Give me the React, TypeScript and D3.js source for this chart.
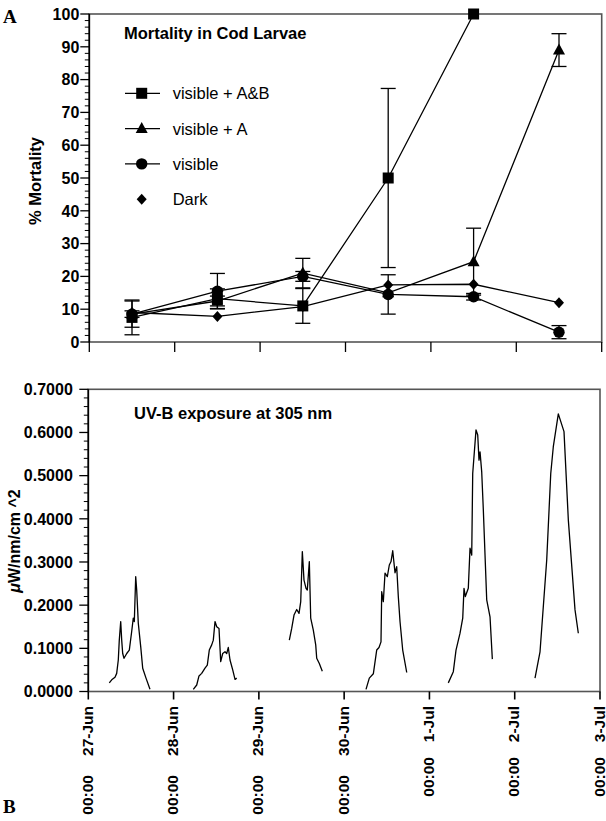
import React from 'react';
import * as d3 from 'd3';

// ---------- Panel A data ----------
const sampleDays = [0.5, 1.5, 2.5, 3.5, 4.5, 5.5];
const abMean = [7.5, 13.2, 11, 50, 100];
const abErr = [5.3, 3, 5.3, 27.3, 0];
const aMean = [8.5, 12.5, 21, 15, 24.5, 89];
const aErr = [4, 1.5, 4.5, 0, 10.2, 5];
const visMean = [8.5, 15.5, 20, 14.5, 13.8, 3];
const visErr = [1, 5.4, 1.5, 6, 1, 2];
const darkMean = [9, 7.8, 10.8, 17.4, 17.6, 12];

const legendNames = ['visible + A&B', 'visible + A', 'visible', 'Dark'];
const yTicksA = [0, 10, 20, 30, 40, 50, 60, 70, 80, 90, 100];

// ---------- Panel B data (hours since 27-Jun 00:00, µW/nm/cm^2) ----------
const uvHours = [
  [5.91, 6.59, 7.51, 7.99, 8.44, 8.72, 9.12, 9.40, 9.68, 10.05, 10.81, 11.54, 12.21, 12.66, 12.95, 13.34, 13.62, 14.07, 14.75, 15.31, 16.24, 17.36],
  [29.55, 30.51, 31.15, 31.91, 32.84, 33.49, 34.05, 34.73, 35.18, 35.66, 36.14, 36.78, 37.26, 37.82, 38.47, 38.95, 39.40, 39.88, 40.64, 41.29, 41.76],
  [56.57, 57.24, 57.89, 58.65, 59.30, 59.78, 60.23, 60.70, 61.27, 61.63, 62.20, 62.59, 63.32, 64.00, 64.28, 65.01, 65.85],
  [78.15, 79.08, 80.21, 81.16, 81.81, 82.37, 82.57, 83.02, 83.50, 84.15, 84.71, 85.19, 85.67, 86.31, 86.79, 87.24, 87.72, 88.48, 89.61],
  [101.31, 102.72, 103.48, 104.61, 105.37, 105.73, 106.10, 106.94, 107.42, 107.90, 108.18, 109.11, 109.59, 109.95, 110.24, 110.71, 111.17, 112.12, 113.05, 113.70],
  [125.71, 127.12, 129.01, 130.14, 130.86, 132.27, 133.87, 135.09, 136.97, 137.90],
];
const uvValues = [
  [0.020, 0.027, 0.033, 0.042, 0.073, 0.119, 0.162, 0.119, 0.088, 0.077, 0.088, 0.096, 0.139, 0.170, 0.162, 0.266, 0.235, 0.158, 0.104, 0.054, 0.031, 0.005],
  [0.005, 0.015, 0.036, 0.042, 0.054, 0.061, 0.096, 0.108, 0.119, 0.162, 0.150, 0.146, 0.069, 0.088, 0.092, 0.088, 0.102, 0.073, 0.050, 0.028, 0.031],
  [0.119, 0.146, 0.177, 0.190, 0.181, 0.208, 0.324, 0.258, 0.239, 0.235, 0.301, 0.170, 0.142, 0.108, 0.077, 0.065, 0.047],
  [0.005, 0.031, 0.041, 0.096, 0.102, 0.115, 0.231, 0.208, 0.274, 0.266, 0.293, 0.301, 0.326, 0.275, 0.289, 0.220, 0.162, 0.096, 0.044],
  [0.020, 0.046, 0.096, 0.135, 0.170, 0.239, 0.220, 0.239, 0.332, 0.316, 0.505, 0.606, 0.594, 0.536, 0.555, 0.509, 0.420, 0.212, 0.173, 0.075],
  [0.031, 0.092, 0.305, 0.505, 0.567, 0.643, 0.602, 0.397, 0.189, 0.135],
];
const yTicksB = [0, 0.1, 0.2, 0.3, 0.4, 0.5, 0.6, 0.7];
const xTickHours = [0, 24, 48, 72, 96, 120, 144];
const xTickDates = ['27-Jun', '28-Jun', '29-Jun', '30-Jun', '1-Jul', '2-Jul', '3-Jul'];
const xTickTime = '00:00';

const FONT = '"Liberation Sans", Arial, Helvetica, sans-serif';

function Marker({ kind, x, y }: { kind: string; x: number; y: number }) {
  if (kind === 'square') return <rect x={x - 5.5} y={y - 5.5} width={11} height={11} fill="#000" />;
  if (kind === 'triangle') return <path d={`M${x},${y - 6.5} L${x + 6},${y + 4.5} L${x - 6},${y + 4.5} Z`} fill="#000" />;
  if (kind === 'circle') return <circle cx={x} cy={y} r={5.7} fill="#000" />;
  return <path d={`M${x},${y - 5.5} L${x + 5},${y} L${x},${y + 5.5} L${x - 5},${y} Z`} fill="#000" />;
}

export default function App() {
  // Panel A scales
  const ax0 = 89.3, ax1 = 601.7, ay0 = 342, ay1 = 14;
  const xA = d3.scaleLinear().domain([0, 6]).range([ax0, ax1]);
  const yA = d3.scaleLinear().domain([0, 100]).range([ay0, ay1]);
  const lineA = d3.line<[number, number]>().x(d => xA(d[0])).y(d => yA(d[1]));

  const seriesA = [
    { kind: 'square', mean: abMean, err: abErr },
    { kind: 'triangle', mean: aMean, err: aErr },
    { kind: 'circle', mean: visMean, err: visErr },
    { kind: 'diamond', mean: darkMean, err: null as number[] | null },
  ];

  // Panel B scales
  const bx0 = 88.3, bx1 = 600, by0 = 691.5, by1 = 389.3;
  const xB = d3.scaleLinear().domain([0, 144]).range([bx0, bx1]);
  const yB = d3.scaleLinear().domain([0, 0.7]).range([by0, by1]);
  const lineB = d3.line<[number, number]>().x(d => xB(d[0])).y(d => yB(d[1]));
  const fmtB = d3.format('.4f');

  const minorA = d3.range(0, 101, 2).filter(v => v % 10 !== 0);
  const minorB = d3.range(0, 71, 2).filter(v => v % 10 !== 0).map(v => v / 100);

  return (
    <svg width={606} height={821} style={{ position: 'absolute', left: 0, top: 0, background: '#fff' }} fontFamily={FONT}>
      <rect x={0} y={0} width={606} height={821} fill="#fff" />
      {/* Panel labels */}
      <text x={3} y={23} fontFamily='"Liberation Serif", "Times New Roman", serif' fontWeight="bold" fontSize={19}>A</text>
      <text x={3} y={813} fontFamily='"Liberation Serif", "Times New Roman", serif' fontWeight="bold" fontSize={19}>B</text>

      {/* ===== Panel A ===== */}
      <rect x={ax0} y={ay1} width={ax1 - ax0} height={ay0 - ay1} fill="none" stroke="#555" strokeWidth={1.6} />
      <line x1={ax0} y1={ay1} x2={ax0} y2={ay0} stroke="#000" strokeWidth={1.6} />
      {yTicksA.map(v => (
        <g key={'ya' + v}>
          <line x1={ax0 - 9} x2={ax0} y1={yA(v)} y2={yA(v)} stroke="#000" strokeWidth={1.3} />
          <text x={ax0 - 10} y={yA(v)} dy="0.36em" textAnchor="end" fontSize={16} fontWeight="bold">{v}</text>
        </g>
      ))}
      {minorA.map(v => (
        <line key={'ma' + v} x1={ax0 - 4.5} x2={ax0} y1={yA(v)} y2={yA(v)} stroke="#000" strokeWidth={1} />
      ))}
      {d3.range(0, 7).map(d => (
        <line key={'xa' + d} x1={xA(d)} x2={xA(d)} y1={ay0} y2={ay0 + 10} stroke="#000" strokeWidth={1.3} />
      ))}
      <text transform={`translate(41,181) rotate(-90)`} textAnchor="middle" fontSize={16.5} fontWeight="bold">% Mortality</text>
      <text x={124} y={38.5} fontSize={16.5} fontWeight="bold">Mortality in Cod Larvae</text>

      {/* error bars */}
      {seriesA.map((s, si) => s.err ? s.mean.map((m, i) => {
        const e = s.err![i];
        if (!e) return null;
        const x = xA(sampleDays[i]);
        const lo = Math.max(0, m - e);
        return (
          <g key={`e${si}-${i}`} stroke="#000" strokeWidth={1.3}>
            <line x1={x} x2={x} y1={yA(m + e)} y2={yA(lo)} />
            <line x1={x - 7.5} x2={x + 7.5} y1={yA(m + e)} y2={yA(m + e)} />
            {m - e > 0 && <line x1={x - 7.5} x2={x + 7.5} y1={yA(m - e)} y2={yA(m - e)} />}
          </g>
        );
      }) : null)}
      {/* lines */}
      {seriesA.map((s, si) => (
        <path key={'l' + si} d={lineA(s.mean.map((m, i) => [sampleDays[i], m] as [number, number])) || ''} fill="none" stroke="#000" strokeWidth={1.3} />
      ))}
      {/* markers */}
      {seriesA.map((s, si) => s.mean.map((m, i) => (
        <Marker key={`m${si}-${i}`} kind={s.kind} x={xA(sampleDays[i])} y={yA(m)} />
      )))}
      {/* legend */}
      {legendNames.map((name, i) => {
        const cy = 93.3 + i * 35.3;
        return (
          <g key={'lg' + i}>
            {i < 3 && <line x1={125} x2={160} y1={cy} y2={cy} stroke="#000" strokeWidth={1.3} />}
            <Marker kind={seriesA[i].kind} x={141.7} y={cy} />
            <text x={172.7} y={cy} dy="0.36em" fontSize={16.5}>{name}</text>
          </g>
        );
      })}

      {/* ===== Panel B ===== */}
      <rect x={bx0} y={by1} width={bx1 - bx0} height={by0 - by1} fill="none" stroke="#555" strokeWidth={1.6} />
      <line x1={bx0} y1={by1} x2={bx0} y2={by0} stroke="#000" strokeWidth={1.6} />
      {yTicksB.map(v => (
        <g key={'yb' + v}>
          <line x1={bx0 - 9} x2={bx0} y1={yB(v)} y2={yB(v)} stroke="#000" strokeWidth={1.3} />
          <text x={bx0 - 15.5} y={yB(v)} dy="0.36em" textAnchor="end" fontSize={16} fontWeight="bold">{fmtB(v)}</text>
        </g>
      ))}
      {minorB.map(v => (
        <line key={'mb' + v} x1={bx0 - 4.5} x2={bx0} y1={yB(v)} y2={yB(v)} stroke="#000" strokeWidth={1} />
      ))}
      {xTickHours.map((h, i) => (
        <g key={'xb' + h}>
          <line x1={xB(h)} x2={xB(h)} y1={by0} y2={by0 + 8} stroke="#000" strokeWidth={1.6} />
          <text transform={`translate(${xB(h) + 4.5},706) rotate(-90)`} textAnchor="end" fontSize={15.5} fontWeight="bold">{xTickDates[i]}</text>
          <text transform={`translate(${xB(h) + 4.5},${i < 4 ? 775 : 757}) rotate(-90)`} textAnchor="end" fontSize={15.5} fontWeight="bold">{xTickTime}</text>
        </g>
      ))}
      <text transform={`translate(20,541) rotate(-90)`} textAnchor="middle" fontSize={16} fontWeight="bold">
        <tspan fontStyle="italic">μ</tspan>W/nm/cm ^2
      </text>
      <text x={134} y={418.5} fontSize={16.5} fontWeight="bold">UV-B exposure at 305 nm</text>
      {uvHours.map((hs, si) => (
        <path key={'uv' + si} d={lineB(hs.map((h, i) => [h, uvValues[si][i]] as [number, number])) || ''} fill="none" stroke="#000" strokeWidth={1.3} strokeLinejoin="round" />
      ))}
    </svg>
  );
}
